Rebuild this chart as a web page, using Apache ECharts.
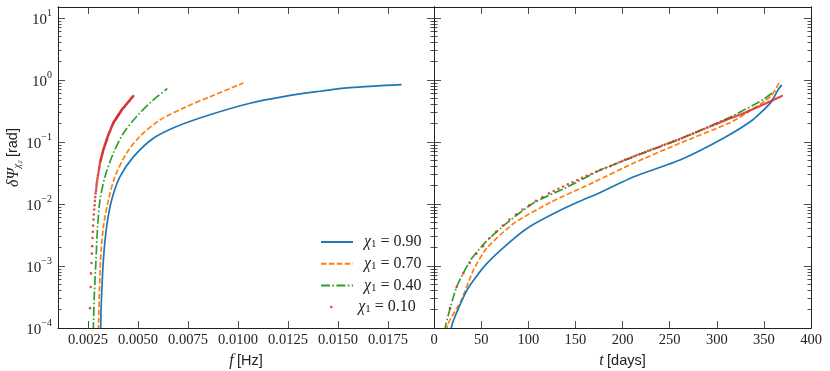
<!DOCTYPE html>
<html>
<head>
<meta charset="utf-8">
<script src="https://cdn.jsdelivr.net/npm/echarts@6/dist/echarts.min.js"></script>
<style>
  html, body { margin: 0; padding: 0; background: #fff; }
  #main { width: 830px; height: 371px; }
</style>
</head>
<body>
<div id="main"></div>
<script>
// names of the four runs
const names = ['χ1 = 0.90', 'χ1 = 0.70', 'χ1 = 0.40', 'χ1 = 0.10']
const colors = ['#1f77b4', '#ff7f0e', '#2ca02c', '#d62728']

// tick values
const fTicks = [0.0025, 0.005, 0.0075, 0.01, 0.0125, 0.015, 0.0175]
const tDays = [0, 50, 100, 150, 200, 250, 300, 350, 400]
const yMajor = [1e-4, 1e-3, 1e-2, 1e-1, 1, 10]
const yMinor = []
for (let e = -4; e <= 0; e++) {
  for (let k = 2; k <= 9; k++) yMinor.push(k * Math.pow(10, e))
}

// left panel: [f (Hz), dPsi (rad)]
const blueF = [[0.00313, 6.3e-5], [0.003145, 1.58e-4], [0.003185, 3.63e-4], [0.00327, 1.26e-3], [0.00343, 4.27e-3],
  [0.00368, 0.0115], [0.0041, 0.0275], [0.00477, 0.0575], [0.00577, 0.115], [0.00693, 0.178], [0.0086, 0.275],
  [0.0106, 0.421], [0.01227, 0.537], [0.01393, 0.646], [0.0156, 0.750], [0.01818, 0.841]]
const orangeF = [[0.003005, 5.0e-5], [0.00303, 1.26e-4], [0.00307, 3.63e-4], [0.00313, 1.26e-3], [0.00327, 4.27e-3],
  [0.00352, 0.0115], [0.00385, 0.0275], [0.00443, 0.0661], [0.0051, 0.123], [0.0061, 0.226], [0.00743, 0.372],
  [0.0086, 0.537], [0.01027, 0.891]]
const greenF = [[0.00276, 5.0e-5], [0.002775, 1.26e-4], [0.00282, 3.63e-4], [0.0029, 1.26e-3], [0.00298, 4.27e-3],
  [0.0031, 0.0115], [0.00335, 0.0275], [0.00377, 0.0661], [0.00427, 0.138], [0.00493, 0.257], [0.00577, 0.479],
  [0.00647, 0.724]]

// right panel: [t (days), dPsi (rad)]
const blueT = [[17, 5.0e-5], [19, 1.12e-4], [35, 4.07e-4], [52, 9.33e-4], [71, 1.82e-3], [99, 4.07e-3], [141, 8.91e-3],
  [177, 0.0155], [212, 0.0275], [261, 0.0513], [307, 0.115], [338, 0.226], [357, 0.427], [365, 0.692], [369, 0.832]]
const orangeT = [[12, 5.0e-5], [14.5, 1.12e-4], [29, 2.82e-4], [42, 8.71e-4], [56, 1.95e-3], [85, 4.90e-3], [124, 0.0107],
  [170, 0.0226], [212, 0.0457], [261, 0.0955], [314, 0.204], [332, 0.295], [357, 0.537], [366, 0.891]]
const greenT = [[10, 5.0e-5], [12.5, 1.12e-4], [24, 4.57e-4], [39, 1.26e-3], [55, 2.45e-3], [77, 4.90e-3], [106, 0.0105],
  [141, 0.0186], [177, 0.0355], [212, 0.0575], [261, 0.112], [314, 0.251], [349, 0.479], [364, 0.708]]

// chi1 = 0.10 is drawn as dots, each sample has a time, a frequency and a dPsi
const redT = [17, 24, 31, 38, 45, 52, 59, 66, 73, 80, 87, 94, 101, 108, 115, 122,
  127, 132, 137, 142, 147, 152, 157, 162, 167, 172, 177, 182, 187, 192, 197,
  200, 203, 206, 209, 212, 215, 218, 221, 224, 227, 230, 233, 236, 239, 242, 245, 248, 251, 254, 257,
  260, 263, 266, 269, 272, 275, 278, 281, 284, 287, 290, 293, 296, 299,
  301, 303, 305, 307, 309, 311, 313, 315, 317, 319, 321, 323, 325, 327, 329, 331, 333, 335, 337, 339,
  341, 343, 345, 347, 349, 351, 353, 355, 357, 359, 361, 363, 365, 367, 369]
const redF = [0.002600, 0.002635, 0.002650, 0.002675, 0.002695, 0.002710, 0.002725, 0.002740, 0.002755, 0.002775,
  0.002790, 0.002810, 0.002830, 0.002845, 0.002860, 0.002880,
  0.002900, 0.002910, 0.002925, 0.002930, 0.002945, 0.002960, 0.002980, 0.002995, 0.003010, 0.003030,
  0.003045, 0.003060, 0.003075, 0.003090, 0.003110,
  0.003125, 0.003140, 0.003155, 0.003170, 0.003185, 0.003200, 0.003215, 0.003225, 0.003240, 0.003255,
  0.003265, 0.003285, 0.003305, 0.003320, 0.003340, 0.003355, 0.003375, 0.003390, 0.003410, 0.003425,
  0.003445, 0.003460, 0.003480, 0.003500, 0.003520, 0.003545, 0.003570, 0.003595, 0.003620, 0.003640,
  0.003665, 0.003690, 0.003715, 0.003740,
  0.003755, 0.003775, 0.003800, 0.003825, 0.003850, 0.003875, 0.003900, 0.003925, 0.003945, 0.003970,
  0.003990, 0.004015, 0.004040, 0.004060, 0.004085, 0.004115, 0.004140, 0.004165, 0.004190, 0.004225,
  0.004265, 0.004295, 0.004330, 0.004365, 0.004400, 0.004435, 0.004470, 0.004510, 0.004545, 0.004580,
  0.004615, 0.004655, 0.004690, 0.004725, 0.004765]
const redPsi = [2.09e-4, 4.57e-4, 7.59e-4, 1.12e-3, 1.58e-3, 2.09e-3, 2.82e-3, 3.55e-3, 4.47e-3, 5.62e-3,
  6.76e-3, 8.13e-3, 9.55e-3, 0.0112, 0.0129, 0.0148,
  0.0162, 0.0176, 0.0191, 0.0207, 0.0224, 0.0243, 0.0263, 0.0285, 0.0305, 0.0331, 0.0355, 0.0380, 0.0407, 0.0442, 0.0473,
  0.0495, 0.0519, 0.0537, 0.0562, 0.0589, 0.0614, 0.0638, 0.0664, 0.0690, 0.0718, 0.0746, 0.0776, 0.0807, 0.0839,
  0.0873, 0.0908, 0.0944, 0.0982, 0.102, 0.106, 0.110, 0.115, 0.120, 0.126, 0.131, 0.137, 0.143, 0.149, 0.156,
  0.163, 0.170, 0.177, 0.185, 0.193,
  0.199, 0.205, 0.211, 0.217, 0.223, 0.230, 0.237, 0.243, 0.249, 0.256, 0.263, 0.270, 0.277, 0.284, 0.293,
  0.302, 0.312, 0.321, 0.331, 0.341, 0.352, 0.363, 0.374, 0.386, 0.398, 0.411, 0.425, 0.439, 0.453, 0.468,
  0.483, 0.499, 0.515, 0.532, 0.550]

const serif = 'Liberation Serif'
const sans = 'Liberation Sans'
const ink = '#222'
const Y_MIN = 1e-4
const Y_MAX = 15

function supLabel (v) {
  const e = Math.round(Math.log10(v))
  return '{b|10}{e|' + (e < 0 ? '\u2212' + (-e) : e) + '}'
}

// one log y axis, ticks only or with labels
function yAx (grid, pos, ticks, len, labels) {
  return {
    type: 'log', logBase: 10, gridIndex: grid, position: pos, min: Y_MIN, max: Y_MAX,
    axisLine: { show: true, lineStyle: { color: ink, width: 1 } },
    axisTick: { show: true, inside: true, length: len, customValues: ticks, lineStyle: { color: ink, width: 0.8 } },
    axisLabel: labels ? {
      show: true, customValues: ticks, margin: 6, formatter: supLabel,
      rich: {
        b: { fontFamily: serif, fontSize: 15, color: ink, lineHeight: 20, verticalAlign: 'bottom' },
        e: { fontFamily: serif, fontSize: 10, color: ink, lineHeight: 20, verticalAlign: 'top' }
      }
    } : { show: false },
    splitLine: { show: false },
    minorTick: { show: false },
    z: 5
  }
}

function xAx (grid, pos, min, max, ticks, labels, fmt, name) {
  return {
    type: 'value', gridIndex: grid, position: pos, min: min, max: max,
    axisLine: { show: true, onZero: false, lineStyle: { color: ink, width: 1 } },
    axisTick: { show: true, inside: true, length: 7, customValues: ticks, lineStyle: { color: ink, width: 0.8 } },
    axisLabel: labels ? {
      show: true, customValues: ticks, margin: 5, formatter: fmt,
      fontFamily: serif, fontSize: 14.5, color: ink
    } : { show: false },
    splitLine: { show: false },
    name: labels ? name : '',
    nameLocation: 'middle',
    nameGap: 20,
    nameTextStyle: {
      rich: {
        i: { fontFamily: serif, fontStyle: 'italic', fontSize: 16, color: ink },
        s: { fontFamily: sans, fontSize: 14.5, color: ink }
      }
    },
    z: 5
  }
}

const myChart = echarts.init(document.getElementById('main'), null, { renderer: 'canvas' })

const lineStyles = [
  { width: 1.7, type: 'solid' },
  { width: 1.7, type: [5.5, 2.4] },
  { width: 1.7, type: [9, 2.4, 1.6, 2.4] }
]
const lineSets = [[blueF, blueT], [orangeF, orangeT], [greenF, greenT]]

const series = []
lineSets.forEach((pair, i) => {
  series.push({
    name: names[i], type: 'line', xAxisIndex: 0, yAxisIndex: 0, data: pair[0],
    symbol: 'none', smooth: 0.3, color: colors[i],
    lineStyle: Object.assign({ color: colors[i] }, lineStyles[i]), z: 3 - i
  })
  series.push({
    name: names[i], type: 'line', xAxisIndex: 2, yAxisIndex: 4, data: pair[1],
    symbol: 'none', smooth: 0.2, color: colors[i],
    lineStyle: Object.assign({ color: colors[i] }, lineStyles[i]), z: 3 - i
  })
})
series.push({
  name: names[3], type: 'scatter', xAxisIndex: 0, yAxisIndex: 0,
  data: redF.map((f, i) => [f, redPsi[i]]),
  symbol: 'circle', symbolSize: 2.6, itemStyle: { color: colors[3] }, z: 4
})
series.push({
  name: names[3], type: 'scatter', xAxisIndex: 2, yAxisIndex: 4,
  data: redT.map((t, i) => [t, redPsi[i]]),
  symbol: 'circle', symbolSize: 2.6, itemStyle: { color: colors[3] }, z: 4
})

const legendRich = {
  c: { fontFamily: serif, fontStyle: 'italic', fontSize: 16, color: ink, lineHeight: 16 },
  s: { fontFamily: serif, fontSize: 11, color: ink, lineHeight: 16, verticalAlign: 'bottom' },
  n: { fontFamily: serif, fontSize: 16, color: ink, lineHeight: 16 }
}
function legendFmt (name) {
  const val = name.split('= ')[1]
  return '{c|χ}{s|1}{n| = ' + val + '}'
}

myChart.setOption({
  animation: false,
  backgroundColor: '#fff',
  grid: [
    { left: 58, top: 7, width: 376, height: 321, containLabel: false, outerBoundsMode: 'none' },
    { left: 434, top: 7, width: 377, height: 321, containLabel: false, outerBoundsMode: 'none' }
  ],
  xAxis: [
    xAx(0, 'bottom', 0.001, 0.0198, fTicks, true, v => v.toFixed(4), '{i|f} {s|[Hz]}'),
    xAx(0, 'top', 0.001, 0.0198, fTicks, false),
    xAx(1, 'bottom', 0, 400, tDays, true, v => String(v), '{i|t} {s|[days]}'),
    xAx(1, 'top', 0, 400, tDays, false)
  ],
  yAxis: [
    Object.assign(yAx(0, 'left', yMajor, 7, true), {
      name: '{i|δΨ}{s|χ₂} {r|[rad]}',
      nameLocation: 'middle',
      nameGap: 31,
      nameRotate: 90,
      nameTextStyle: {
        padding: [0, 0, 0, 20],
        rich: {
          i: { fontFamily: serif, fontStyle: 'italic', fontSize: 16, color: ink, lineHeight: 18 },
          s: { fontFamily: serif, fontStyle: 'italic', fontSize: 10, color: ink, lineHeight: 18, verticalAlign: 'bottom' },
          r: { fontFamily: sans, fontSize: 14.5, color: ink, lineHeight: 18 }
        }
      }
    }),
    yAx(0, 'left', yMinor, 3.5, false),
    yAx(0, 'right', yMajor, 7, false),
    yAx(0, 'right', yMinor, 3.5, false),
    yAx(1, 'left', yMajor, 7, false),
    yAx(1, 'left', yMinor, 3.5, false),
    yAx(1, 'right', yMajor, 7, false),
    yAx(1, 'right', yMinor, 3.5, false)
  ],
  legend: [
    {
      data: names.slice(0, 3), orient: 'vertical', left: 315, top: 229,
      itemWidth: 32, itemHeight: 14, itemGap: 5.7,
      itemStyle: { opacity: 0 },
      formatter: legendFmt, textStyle: { rich: legendRich, padding: [0, 0, 0, 6] },
      selectedMode: false
    },
    {
      data: [{ name: names[3], icon: 'circle' }], orient: 'vertical', left: 325, top: 294,
      itemWidth: 32, itemHeight: 2.6,
      formatter: legendFmt, textStyle: { rich: legendRich, padding: [0, 0, 0, 6] },
      selectedMode: false
    }
  ],
  series: series
})
</script>
</body>
</html>
